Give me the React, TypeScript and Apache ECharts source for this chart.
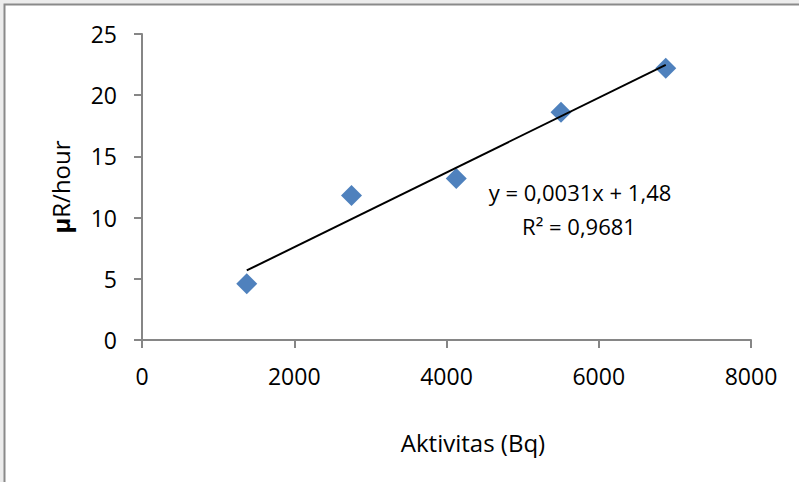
import React, { useEffect, useRef } from "react";
import * as echarts from "echarts";

const activity: number[] = [1376, 2752, 4128, 5504, 6880];
const doseRate: number[] = [4.6, 11.8, 13.2, 18.6, 22.2];
const equationText = "y = 0,0031x + 1,48";
const r2Text = "R² = 0,9681";
const xTitle = "Aktivitas (Bq)";
const yTitleUnit = "μ";
const yTitleRest = "R/hour";

function regression(xs: number[], ys: number[]) {
  const n = xs.length;
  const mx = xs.reduce((a, b) => a + b, 0) / n;
  const my = ys.reduce((a, b) => a + b, 0) / n;
  let sxy = 0;
  let sxx = 0;
  for (let i = 0; i < n; i++) {
    sxy += (xs[i] - mx) * (ys[i] - my);
    sxx += (xs[i] - mx) * (xs[i] - mx);
  }
  const slope = sxy / sxx;
  return { slope, intercept: my - slope * mx };
}

export default function App() {
  const ref = useRef<HTMLDivElement>(null);
  useEffect(() => {
    if (!ref.current) return;
    const chart = echarts.init(ref.current, undefined, { renderer: "svg" });
    const { slope, intercept } = regression(activity, doseRate);
    const xMin = Math.min(...activity);
    const xMax = Math.max(...activity);
    const trend = [
      [xMin, slope * xMin + intercept],
      [xMax, slope * xMax + intercept],
    ];
    const font = "'Open Sans', 'DejaVu Sans', sans-serif";
    chart.setOption({
      animation: false,
      backgroundColor: "#ececec",
      textStyle: { fontFamily: font },
      grid: { left: 142, right: 48, top: 34, bottom: 142, containLabel: false },
      graphic: [
        {
          type: "rect",
          z: -10,
          silent: true,
          shape: { x: 4.5, y: 4.5, width: 900, height: 600 },
          style: { fill: "#ffffff", stroke: "#8a8a8a", lineWidth: 2 },
        },
        {
          type: "text",
          x: 580,
          y: 192,
          style: {
            text: equationText,
            fontFamily: font,
            fontSize: 22,
            fill: "#000",
            align: "center",
            verticalAlign: "middle",
          },
        },
        {
          type: "text",
          x: 579,
          y: 226,
          style: {
            text: r2Text,
            fontFamily: font,
            fontSize: 22,
            fill: "#000",
            align: "center",
            verticalAlign: "middle",
          },
        },
      ],
      xAxis: {
        type: "value",
        min: 0,
        max: 8000,
        interval: 2000,
        name: xTitle,
        nameLocation: "middle",
        nameGap: 90,
        nameTextStyle: {
          fontFamily: font,
          fontSize: 24,
          color: "#000",
          padding: [0, 0, 0, 53],
        },
        axisLine: { show: true, lineStyle: { color: "#868686", width: 2 } },
        axisTick: { show: true, length: 8, lineStyle: { color: "#868686", width: 2 } },
        axisLabel: {
          fontFamily: font,
          fontSize: 23,
          color: "#000",
          margin: 24,
          formatter: (v: number) => String(v),
        },
        splitLine: { show: false },
      },
      yAxis: {
        type: "value",
        min: 0,
        max: 25,
        interval: 5,
        name: `{b|${yTitleUnit}}${yTitleRest}`,
        nameLocation: "middle",
        nameRotate: 90,
        nameGap: 70,
        nameTextStyle: {
          fontFamily: font,
          fontSize: 24,
          color: "#000",
          rich: {
            b: { fontFamily: font, fontSize: 24, fontWeight: "bold", color: "#000" },
          },
        },
        axisLine: { show: true, lineStyle: { color: "#868686", width: 2 } },
        axisTick: { show: true, length: 8, lineStyle: { color: "#868686", width: 2 } },
        axisLabel: {
          fontFamily: font,
          fontSize: 23,
          color: "#000",
          margin: 25,
          formatter: (v: number) => String(v),
        },
        splitLine: { show: false },
      },
      series: [
        {
          type: "line",
          data: trend,
          showSymbol: false,
          symbol: "none",
          lineStyle: { color: "#000", width: 2 },
          z: 3,
        },
        {
          type: "scatter",
          data: activity.map((x, i) => [x, doseRate[i]]),
          symbol: "diamond",
          symbolSize: 21,
          itemStyle: { color: "#4F81BD", opacity: 1 },
          z: 2,
        },
      ],
    });
    return () => chart.dispose();
  }, []);
  return (
    <div
      ref={ref}
      style={{ position: "fixed", left: 0, top: 0, width: 799, height: 482 }}
    />
  );
}
